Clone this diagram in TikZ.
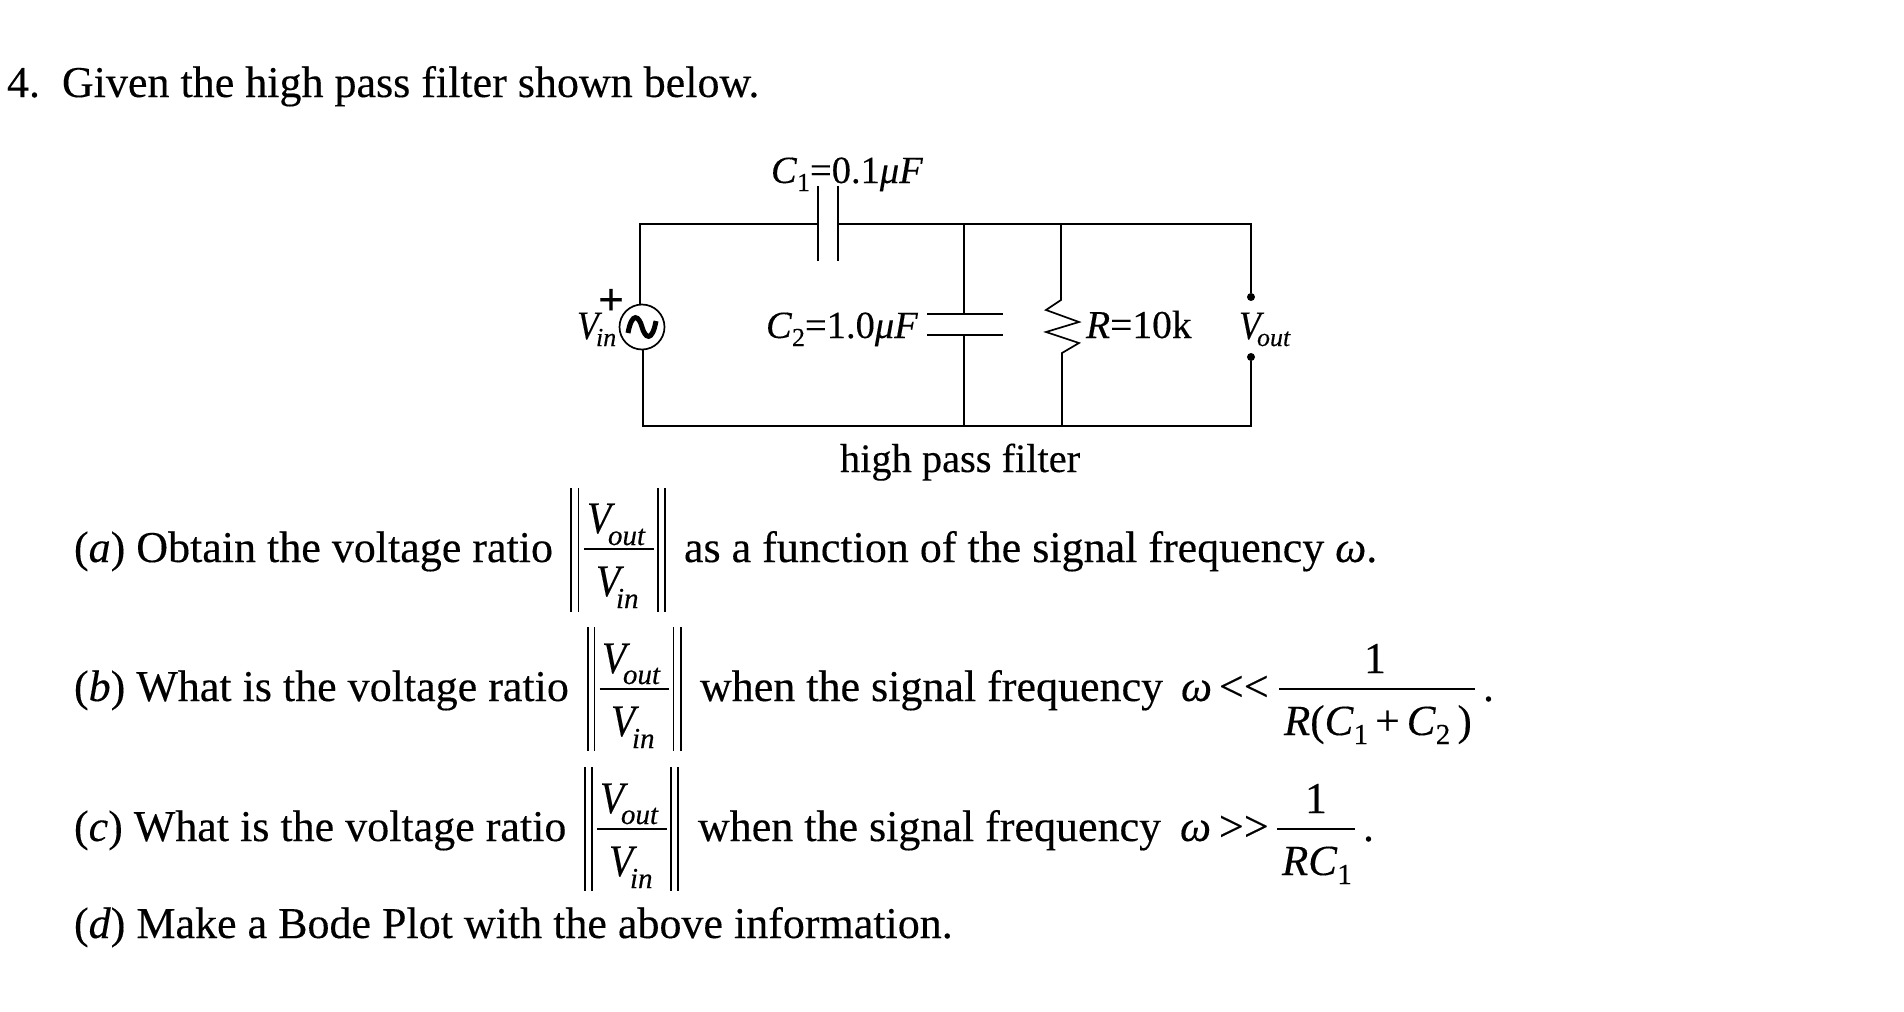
\documentclass[tikz,border=0pt]{standalone}
\usepackage{fontspec}
\usepackage{graphicx}
\setmainfont[FakeBold=0.25]{Liberation Serif}
\newcommand{\lowsub}[2]{\raisebox{-#1pt}{\fontsize{29}{29}\selectfont #2}}
\newcommand{\lowsubc}[2]{\raisebox{-#1pt}{\fontsize{26}{26}\selectfont #2}}
\newcommand{\narrowV}{\scalebox{0.88}[1]{V}}
\tikzset{
  body/.style={anchor=base west,inner sep=0pt,outer sep=0pt,font=\fontsize{44}{50}\selectfont},
  dent/.style={anchor=base west,inner sep=0pt,outer sep=0pt,font=\fontsize{43}{50}\selectfont},
  circ/.style={anchor=base west,inner sep=0pt,outer sep=0pt,font=\fontsize{40.4}{46}\selectfont},
  clab/.style={anchor=base west,inner sep=0pt,outer sep=0pt,font=\fontsize{38.5}{46}\selectfont},
  big/.style={anchor=base west,inner sep=0pt,outer sep=0pt,font=\fontsize{45}{50}\selectfont\itshape},
  sub/.style={anchor=base west,inner sep=0pt,outer sep=0pt,font=\fontsize{29}{32}\selectfont\itshape},
  csub/.style={anchor=base west,inner sep=0pt,outer sep=0pt,font=\fontsize{26}{30}\selectfont\itshape},
  wire/.style={line width=1.7pt,black},
  plate/.style={line width=1.5pt,black},
  rule/.style={line width=1.4pt,black},
  src/.style={circle,draw,line width=1.7pt,minimum size=45pt,inner sep=0pt},
  dot/.style={circle,fill=black,inner sep=0pt,minimum size=8pt},
  bar/.style={line width=1.1pt,black}
}
\begin{document}
\begin{tikzpicture}[x=1pt,y=-1pt]
\useasboundingbox (0,0) rectangle (1904,1012);
% heading
\node[body] (title) at (7,97) {4.\hspace{22pt}Given the high pass filter shown below.};
% circuit
\node[src] (vs) at (642,327) {};
\draw[line width=5pt] (628,333) .. controls (632,311) and (639,316) .. (642,327) .. controls (645,338) and (652,343) .. (656,321);
\coordinate (tl) at (640,224); \coordinate (bl) at (643,426);
\coordinate (c1l) at (818,224); \coordinate (c1r) at (838,224);
\coordinate (c2t) at (964,224); \coordinate (c2b) at (964,426);
\coordinate (c2u) at (964,314); \coordinate (c2d) at (964,335);
\coordinate (rt) at (1061,224); \coordinate (rb) at (1062,426);
\coordinate (ru) at (1061,300); \coordinate (rd) at (1062,353);
\coordinate (tr) at (1251,224); \coordinate (br) at (1251,426);
\node[dot] (outa) at (1251,297) {};
\node[dot] (outb) at (1251,357) {};
\draw[wire] (vs.north -| tl) -- (tl) -- (c1l);
\draw[wire] (c1r) -- (tr) -- (outa);
\draw[wire] (vs.south -| bl) -- (bl) -- (br) -- (outb);
\draw[plate] (818,186) -- (818,261);
\draw[plate] (838,186) -- (838,261);
\draw[wire,line width=1.4pt] (c2t) -- (c2u);
\draw[wire,line width=1.4pt] (c2d) -- (c2b);
\draw[plate] (927,314) -- (1003,314);
\draw[plate] (927,335) -- (1003,335);
\draw[wire] (rt) -- (ru) -- (1046,310) -- (1079,322) -- (1046,332) -- (1079,343) -- (rd) -- (rb);
\node[clab] (c1lab) at (771,183) {\textit{C}\lowsubc{8}{1}=0.1\textit{μF}};
\node[clab] (c2lab) at (766,338) {\textit{C}\lowsubc{8}{2}=1.0\textit{μF}};
\node[clab,font=\fontsize{39.5}{46}\selectfont] (rlab) at (1086,338) {\textit{R}=10k};
\node[circ] (vinv) at (577,339) {\textit{\narrowV}};
\node[csub] (vinsub) at (596,346) {in};
\node[circ] (voutv) at (1239,339) {\textit{\narrowV}};
\node[csub] (voutsub) at (1257,346) {out};
\node[anchor=center,inner sep=0pt,font=\fontsize{46}{46}\selectfont\bfseries] (plus) at (611,302) {+};
\node[circ] (cap) at (840,472) {high pass filter};
% part a
\node[body] (a) at (74,562) {(\textit{a}) Obtain the voltage ratio};
\draw[bar] (571,488) -- (571,612); \draw[bar] (578.5,488) -- (578.5,612);
\draw[bar] (658,488) -- (658,612); \draw[bar] (665,488) -- (665,612);
\draw[rule] (584,549) -- (654,549);
\node[big] (av1) at (587,533) {\narrowV}; \node[sub] (aout) at (608,545) {out};
\node[big] (av2) at (596,596) {\narrowV}; \node[sub] (ain) at (616,608) {in};
\node[body] (a2) at (684,562) {as a function of the signal frequency \textit{ω}.};
% part b
\node[body] (b) at (74,701) {(\textit{b}) What is the voltage ratio};
\draw[bar] (588,627) -- (588,751); \draw[bar] (594.5,627) -- (594.5,751);
\draw[bar] (673.5,627) -- (673.5,751); \draw[bar] (681,627) -- (681,751);
\draw[rule] (599.5,689) -- (669,689);
\node[big] (bv1) at (602,673) {\narrowV}; \node[sub] (bout) at (623,684) {out};
\node[big] (bv2) at (611,736) {\narrowV}; \node[sub] (bin) at (632,748) {in};
\node[body] (b2) at (700,701) {when the signal frequency};
\node[body] (bw) at (1181,701) {\textit{ω}};
\node[body] (blt) at (1219,701) {\mbox{<}\mbox{<}};
\draw[rule] (1279,689) -- (1474.5,689);
\node[body,anchor=base] (bone) at (1375,673) {1};
\node[dent] (bden) at (1284,735) {\textit{R}(\textit{C}\lowsub{9}{1}\,+\,\textit{C}\lowsub{9}{2}\,)};
\node[body] (bdot) at (1483,701) {.};
% part c
\node[body] (c) at (74,841) {(\textit{c}) What is the voltage ratio};
\draw[bar] (585,767) -- (585,891); \draw[bar] (592,767) -- (592,891);
\draw[bar] (671,767) -- (671,891); \draw[bar] (678,767) -- (678,891);
\draw[rule] (597,829) -- (667,829);
\node[big] (cv1) at (600,813) {\narrowV}; \node[sub] (cout) at (621,824) {out};
\node[big] (cv2) at (609,876) {\narrowV}; \node[sub] (cin) at (630,888) {in};
\node[body] (c2) at (698,841) {when the signal frequency};
\node[body] (cw) at (1180,841) {\textit{ω}};
\node[body] (cgt) at (1219,841) {\mbox{>}\mbox{>}};
\draw[rule] (1277,829) -- (1355,829);
\node[body,anchor=base] (cone) at (1316,813) {1};
\node[dent] (cden) at (1282,875) {\textit{RC}\lowsub{9}{1}};
\node[body] (cdot) at (1363,841) {.};
% part d
\node[body] (d) at (74,938) {(\textit{d}) Make a Bode Plot with the above information.};
\end{tikzpicture}
\end{document}
